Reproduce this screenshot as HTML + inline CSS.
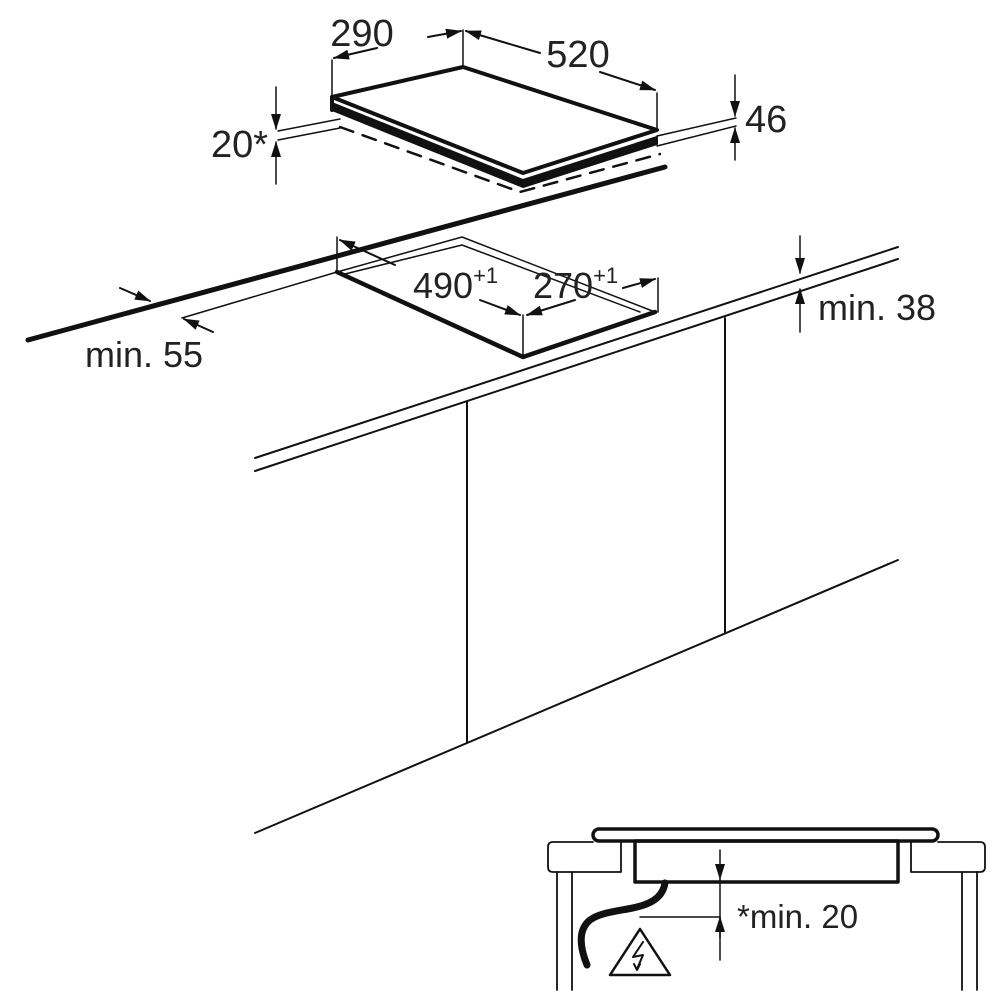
<!DOCTYPE html>
<html><head><meta charset="utf-8"><style>
html,body{margin:0;padding:0;background:#fff}
svg{display:block}
text{font-family:"Liberation Sans",sans-serif;fill:#222}
</style></head><body>
<svg width="1000" height="1000" viewBox="0 0 1000 1000" xmlns="http://www.w3.org/2000/svg">
<defs>
<marker id="a" markerWidth="16" markerHeight="12" refX="15" refY="6" orient="auto" markerUnits="userSpaceOnUse" viewBox="0 0 16 12">
<path d="M0,1 L16,6 L0,11 z" fill="#111"/></marker>
</defs>
<g stroke="#111" fill="none" stroke-linecap="round" stroke-linejoin="round">
<!-- top hob -->
<path d="M332,97 L463,67 L657,130 L523,173 Z" stroke-width="4"/>
<path d="M332,103 L523,180 L657,137 L657,144 L523,187 L332,110 Z" fill="#111" stroke-width="2"/>
<line x1="332" y1="97" x2="332" y2="110" stroke-width="4"/>
<path d="M340,127 L520,192 L660,154" stroke-width="2.5" stroke-dasharray="14,10"/>
<line x1="332" y1="60" x2="332" y2="97" stroke-width="1.5"/>
<line x1="463" y1="30" x2="463" y2="67" stroke-width="1.5"/>
<line x1="657" y1="93" x2="657" y2="130" stroke-width="1.5"/>
<line x1="377" y1="48" x2="334" y2="58" stroke-width="2" marker-end="url(#a)"/>
<line x1="428" y1="37" x2="461" y2="31" stroke-width="2" marker-end="url(#a)"/>
<line x1="540" y1="53" x2="466" y2="31" stroke-width="2" marker-end="url(#a)"/>
<line x1="600" y1="72" x2="655" y2="90" stroke-width="2" marker-end="url(#a)"/>
<!-- 46 -->
<line x1="657" y1="136" x2="736" y2="118" stroke-width="1.5"/>
<line x1="657" y1="146" x2="736" y2="126" stroke-width="1.5"/>
<line x1="735" y1="75" x2="735" y2="116" stroke-width="1.5" marker-end="url(#a)"/>
<line x1="735" y1="160" x2="735" y2="128" stroke-width="1.5" marker-end="url(#a)"/>
<!-- 20* -->
<line x1="278" y1="131" x2="340" y2="119" stroke-width="1.5"/>
<line x1="278" y1="140" x2="340" y2="128" stroke-width="1.5"/>
<line x1="276" y1="87" x2="276" y2="129" stroke-width="1.5" marker-end="url(#a)"/>
<line x1="276" y1="184" x2="276" y2="142" stroke-width="1.5" marker-end="url(#a)"/>
<!-- worktop back edge thick -->
<line x1="28" y1="340" x2="665" y2="167" stroke-width="5"/>
<line x1="182" y1="318" x2="337" y2="272" stroke-width="1.5"/>
<!-- cutout -->
<path d="M337,272 L523,357 L655,312" stroke-width="4.5"/>
<path d="M337,272 L462,237 L655,312" stroke-width="1.5"/>
<path d="M345,274 L462,245 L640,312" stroke-width="1.5"/>
<line x1="337" y1="237" x2="337" y2="272" stroke-width="1.5"/>
<line x1="523" y1="315" x2="523" y2="357" stroke-width="1.5"/>
<line x1="658" y1="278" x2="658" y2="312" stroke-width="1.5"/>
<line x1="395" y1="265" x2="340" y2="240" stroke-width="2" marker-end="url(#a)"/>
<line x1="480" y1="300" x2="520" y2="315" stroke-width="2" marker-end="url(#a)"/>
<line x1="575" y1="300" x2="527" y2="315" stroke-width="2" marker-end="url(#a)"/>
<line x1="623" y1="288" x2="655" y2="279" stroke-width="2" marker-end="url(#a)"/>
<line x1="120" y1="288" x2="150" y2="301" stroke-width="2" marker-end="url(#a)"/>
<line x1="213" y1="332" x2="184" y2="319" stroke-width="2" marker-end="url(#a)"/>
<!-- front worktop -->
<line x1="255" y1="458" x2="898" y2="247" stroke-width="2"/>
<line x1="255" y1="471" x2="898" y2="259" stroke-width="2"/>
<!-- min 38 -->
<line x1="800" y1="236" x2="800" y2="273" stroke-width="1.5" marker-end="url(#a)"/>
<line x1="800" y1="332" x2="800" y2="289" stroke-width="1.5" marker-end="url(#a)"/>
<!-- cabinets -->
<line x1="467" y1="402" x2="467" y2="742" stroke-width="2"/>
<line x1="725" y1="318" x2="725" y2="633" stroke-width="2"/>
<line x1="255" y1="833" x2="898" y2="560" stroke-width="2"/>
<!-- detail -->
<rect x="593" y="829" width="345" height="12" rx="6" stroke-width="3.5"/>
<path d="M593,842 L553,842 Q548,842 548,847 L548,867 Q548,872 553,872 L621,872 L621,842" stroke-width="1.8"/>
<path d="M938,842 L980,842 Q985,842 985,847 L985,867 Q985,872 980,872 L911,872 L911,842" stroke-width="1.8"/>
<rect x="635" y="841" width="263" height="41" stroke-width="3.5"/>
<line x1="557" y1="872" x2="557" y2="990" stroke-width="1.8"/>
<line x1="572" y1="872" x2="572" y2="990" stroke-width="1.8"/>
<line x1="962" y1="872" x2="962" y2="990" stroke-width="1.8"/>
<line x1="977" y1="872" x2="977" y2="990" stroke-width="1.8"/>
<line x1="720" y1="850" x2="720" y2="879" stroke-width="1.5" marker-end="url(#a)"/>
<line x1="720" y1="879" x2="720" y2="960" stroke-width="1.5"/>
<line x1="720" y1="937" x2="720" y2="917" stroke-width="1.5" marker-end="url(#a)"/>
<line x1="640" y1="917" x2="720" y2="917" stroke-width="1.5"/>
<path d="M665,883 C660,915 610,905 590,920 C575,932 583,955 587,965" stroke-width="7"/>
<path d="M640,929 L610,975 L670,975 Z" stroke-width="2.5"/>
<path d="M643,942 L633,957 L643,955 L637,969 M634,964 L637,970 L640,964" stroke-width="2"/>
</g>
<text x="362" y="46" font-size="38" text-anchor="middle">290</text>
<text x="578" y="67" font-size="38" text-anchor="middle">520</text>
<text x="745" y="132" font-size="38">46</text>
<text x="268" y="157" font-size="38" text-anchor="end">20*</text>
<text x="413" y="298" font-size="36">490<tspan font-size="22" dy="-15">+1</tspan></text>
<text x="533" y="298" font-size="36">270<tspan font-size="22" dy="-15">+1</tspan></text>
<text x="818" y="320" font-size="36">min. 38</text>
<text x="85" y="367" font-size="36">min. 55</text>
<text x="737" y="928" font-size="33">*min. 20</text>
</svg>
</body></html>
